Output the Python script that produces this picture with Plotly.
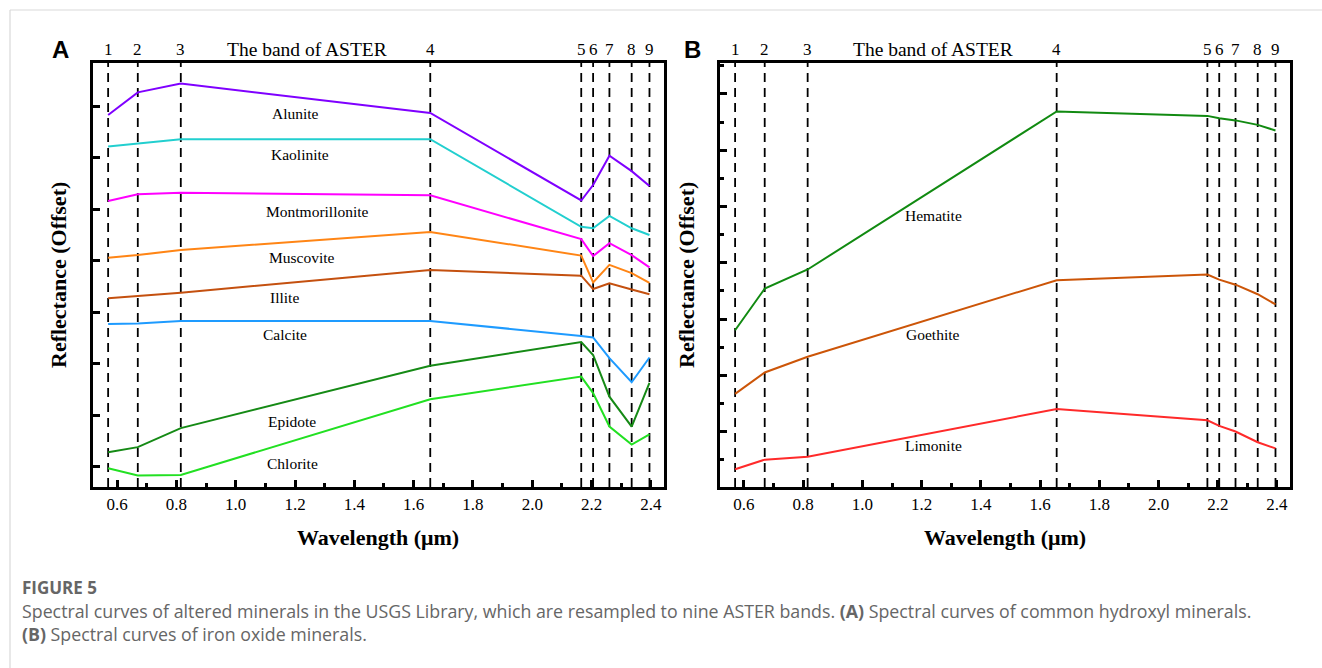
import plotly.graph_objects as go

# ASTER band centres (µm) and band numbers
bands = [0.57, 0.67, 0.815, 1.656, 2.165, 2.205, 2.26, 2.335, 2.395]
band_labels = ["1", "2", "3", "4", "5", "6", "7", "8", "9"]

# Panel A – hydroxyl minerals (offset reflectance)
minerals_a = ["Alunite", "Kaolinite", "Montmorillonite", "Muscovite", "Illite",
              "Calcite", "Epidote", "Chlorite"]
alunite = [0.683, 0.727, 0.744, 0.687, 0.517, 0.547, 0.604, 0.574, 0.545]
kaolinite = [0.622, 0.628, 0.636, 0.636, 0.466, 0.463, 0.487, 0.463, 0.450]
montmorillonite = [0.516, 0.529, 0.532, 0.527, 0.442, 0.409, 0.434, 0.411, 0.387]
muscovite = [0.406, 0.411, 0.421, 0.456, 0.410, 0.358, 0.392, 0.376, 0.357]
illite = [0.327, 0.331, 0.338, 0.382, 0.371, 0.345, 0.356, 0.344, 0.335]
calcite = [0.277, 0.278, 0.283, 0.283, 0.254, 0.251, 0.211, 0.164, 0.212]
epidote = [0.028, 0.038, 0.075, 0.196, 0.242, 0.217, 0.136, 0.078, 0.163]
chlorite = [-0.003, -0.017, -0.016, 0.131, 0.175, 0.143, 0.078, 0.043, 0.063]
colors_a = ["#7F00FF", "#22CFCF", "#FF00FF", "#FF8515", "#C4500F",
            "#1E9BFF", "#158A15", "#22E022"]
label_x_a = [1.20, 1.217, 1.277, 1.224, 1.163, 1.166, 1.19, 1.193]
label_y_a = [0.686, 0.607, 0.496, 0.407, 0.329, 0.257, 0.088, 0.007]

# Panel B – iron oxide minerals
minerals_b = ["Hematite", "Goethite", "Limonite"]
hematite = [0.180, 0.254, 0.288, 0.569, 0.561, 0.557, 0.553, 0.545, 0.535]
goethite = [0.067, 0.105, 0.133, 0.269, 0.279, 0.270, 0.261, 0.244, 0.226]
limonite = [-0.067, -0.050, -0.045, 0.040, 0.020, 0.010, 0.000, -0.019, -0.030]
colors_b = ["#118A11", "#CC5508", "#FF2A2A"]
label_x_b = [1.24, 1.235, 1.24]
label_y_b = [0.384, 0.172, -0.025]

x_ticks = [0.6, 0.8, 1.0, 1.2, 1.4, 1.6, 1.8, 2.0, 2.2, 2.4]
x_ticktext = ["0.6", "0.8", "1.0", "1.2", "1.4", "1.6", "1.8", "2.0", "2.2", "2.4"]

series_a = [alunite, kaolinite, montmorillonite, muscovite, illite, calcite, epidote, chlorite]
series_b = [hematite, goethite, limonite]

W, H = 1322, 668
SERIF = "Liberation Serif, Times New Roman, serif"

fig = go.Figure()
for name, ys, c in zip(minerals_a, series_a, colors_a):
    fig.add_trace(go.Scatter(x=bands, y=ys, mode="lines", name=name,
                             line=dict(color=c, width=2), xaxis="x", yaxis="y",
                             showlegend=False))
for name, ys, c in zip(minerals_b, series_b, colors_b):
    fig.add_trace(go.Scatter(x=bands, y=ys, mode="lines", name=name,
                             line=dict(color=c, width=2), xaxis="x2", yaxis="y2",
                             showlegend=False))

ydom = [1 - 487 / H, 1 - 63 / H]
common_x = dict(range=[0.519, 2.444], tickvals=x_ticks, ticktext=x_ticktext,
                ticks="inside", ticklen=7, tickwidth=2.5, tickcolor="black",
                showline=True, linewidth=3, linecolor="black", mirror=True,
                showgrid=False, zeroline=False,
                tickfont=dict(family=SERIF, size=17, color="black"),
                minor=dict(dtick=0.1, tick0=0.5, ticks="inside", ticklen=4,
                           tickwidth=2.5, tickcolor="black", showgrid=False))
common_y = dict(showticklabels=False, ticks="inside", ticklen=7, tickwidth=2.5,
                tickcolor="black", showline=True, linewidth=3, linecolor="black",
                mirror=True, showgrid=False, zeroline=False, tick0=0, dtick=0.1)

fig.update_layout(
    width=W, height=H, margin=dict(l=0, r=0, t=0, b=0),
    paper_bgcolor="white", plot_bgcolor="white",
    xaxis=dict(domain=[93 / W, 664 / W], anchor="y", **common_x),
    yaxis=dict(domain=ydom, anchor="x", range=[-0.0394, 0.784], **common_y),
    xaxis2=dict(domain=[720 / W, 1290 / W], anchor="y2", **common_x),
    yaxis2=dict(domain=ydom, anchor="x2", range=[-0.0986, 0.655],
                minor=dict(dtick=0.05, tick0=0, ticks="inside", ticklen=4,
                           tickwidth=2.5, tickcolor="black", showgrid=False),
                **common_y),
)

shapes = []
annotations = []
band_y = 1 - 50 / H
for xa, ya in [("x", "y"), ("x2", "y2")]:
    for b, lab in zip(bands, band_labels):
        shapes.append(dict(type="line", xref=xa, yref=f"{ya} domain", x0=b, x1=b,
                           y0=0, y1=1, line=dict(color="black", width=1.8, dash="9px,6px"),
                           layer="below"))
        annotations.append(dict(xref=xa, yref="paper", x=b, y=band_y, text=lab,
                                showarrow=False, xanchor="center", yanchor="middle",
                                font=dict(family=SERIF, size=17, color="black")))
    annotations.append(dict(xref=xa, yref="paper", x=1.24, y=band_y,
                            text="The band of ASTER", showarrow=False,
                            xanchor="center", yanchor="middle",
                            font=dict(family=SERIF, size=19.5, color="black")))

for name, lx, ly in zip(minerals_a, label_x_a, label_y_a):
    annotations.append(dict(xref="x", yref="y", x=lx, y=ly, text=name, showarrow=False,
                            font=dict(family=SERIF, size=15.5, color="black")))
for name, lx, ly in zip(minerals_b, label_x_b, label_y_b):
    annotations.append(dict(xref="x2", yref="y2", x=lx, y=ly, text=name, showarrow=False,
                            font=dict(family=SERIF, size=15.5, color="black")))

# Panel letters
for txt, px in [("A", 60), ("B", 692)]:
    annotations.append(dict(xref="paper", yref="paper", x=px / W, y=1 - 50 / H, text=f"<b>{txt}</b>",
                            showarrow=False, xanchor="center", yanchor="middle",
                            font=dict(family="Liberation Sans, Arial, sans-serif", size=24, color="black")))

# Axis titles
for px in [378, 1005]:
    annotations.append(dict(xref="paper", yref="paper", x=px / W, y=1 - 537 / H,
                            text="<b>Wavelength (μm)</b>", showarrow=False,
                            xanchor="center", yanchor="middle",
                            font=dict(family=SERIF, size=22, color="black")))
for px in [58, 686]:
    annotations.append(dict(xref="paper", yref="paper", x=px / W, y=1 - 275 / H,
                            text="<b>Reflectance (Offset)</b>", showarrow=False, textangle=-90,
                            xanchor="center", yanchor="middle",
                            font=dict(family=SERIF, size=22, color="black")))

# Caption
CAP = "Open Sans, Noto Sans, sans-serif"
CAP_COLOR = "#666666"
annotations.append(dict(xref="paper", yref="paper", x=20 / W, y=1 - 587 / H, text="<b>FIGURE 5</b>",
                        showarrow=False, xanchor="left", yanchor="middle",
                        font=dict(family=CAP, size=17, color=CAP_COLOR)))
annotations.append(dict(xref="paper", yref="paper", x=20 / W, y=1 - 611 / H,
                        text="Spectral curves of altered minerals in the USGS Library, which are resampled to nine ASTER bands. "
                             "<b>(A)</b> Spectral curves of common hydroxyl minerals.",
                        showarrow=False, xanchor="left", yanchor="middle",
                        font=dict(family=CAP, size=17.8, color=CAP_COLOR)))
annotations.append(dict(xref="paper", yref="paper", x=20 / W, y=1 - 634 / H,
                        text="<b>(B)</b> Spectral curves of iron oxide minerals.",
                        showarrow=False, xanchor="left", yanchor="middle",
                        font=dict(family=CAP, size=17.8, color=CAP_COLOR)))

# Light frame around the figure card
shapes.append(dict(type="line", xref="paper", yref="paper", x0=10 / W, x1=1, y0=1 - 10 / H, y1=1 - 10 / H,
                   line=dict(color="#d9d9d9", width=1.2)))
shapes.append(dict(type="line", xref="paper", yref="paper", x0=10 / W, x1=10 / W, y0=0, y1=1 - 10 / H,
                   line=dict(color="#d9d9d9", width=1.2)))

fig.update_layout(shapes=shapes, annotations=annotations)
fig.write_html("out.html")
